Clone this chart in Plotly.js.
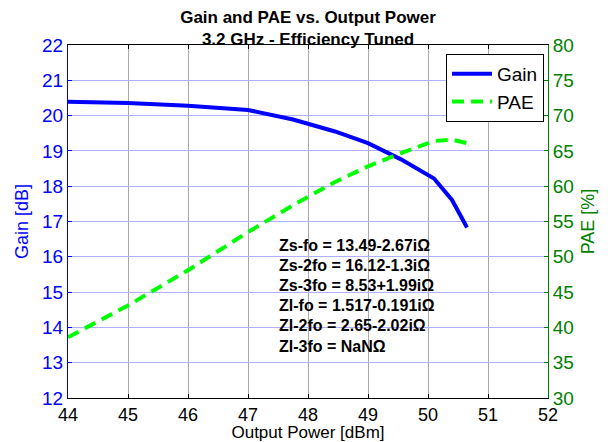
<!DOCTYPE html>
<html>
<head>
<meta charset="utf-8">
<script src="https://cdn.plot.ly/plotly-3.0.1.min.js"></script>
<style>html,body{margin:0;padding:0;background:#fff;}#chart{width:608px;height:442px;}</style>
</head>
<body>
<div id="chart"></div>
<script>
// Data
const outputPower = [44, 45, 46, 47, 47.75, 48.45, 49.0, 49.55, 50.1, 50.4, 50.65];
const gainDb     = [20.39, 20.36, 20.28, 20.16, 19.89, 19.55, 19.22, 18.76, 18.22, 17.61, 16.83];
const paePct     = [38.6, 43.1, 48.1, 53.5, 57.3, 60.6, 62.8, 64.7, 66.4, 66.6, 66.1];
const seriesNames = ['Gain', 'PAE'];
const impedanceLines = [
  'Zs-fo = 13.49-2.67iΩ',
  'Zs-2fo = 16.12-1.3iΩ',
  'Zs-3fo = 8.53+1.99iΩ',
  'Zl-fo = 1.517-0.191iΩ',
  'Zl-2fo = 2.65-2.02iΩ',
  'Zl-3fo = NaNΩ'
];
const xTicks = [44, 45, 46, 47, 48, 49, 50, 51, 52];
const gainTicks = [12, 13, 14, 15, 16, 17, 18, 19, 20, 21, 22];
const paeTicks = [30, 35, 40, 45, 50, 55, 60, 65, 70, 75, 80];

const FONT = 'Liberation Sans, Arial, Helvetica, sans-serif';
const BLUE = '#0000ff';
const GREEN_AX = '#008000';

const traces = [
  {x: outputPower, y: gainDb, name: seriesNames[0], type: 'scatter', mode: 'lines',
   line: {color: BLUE, width: 4}, yaxis: 'y'},
  {x: outputPower, y: paePct, name: seriesNames[1], type: 'scatter', mode: 'lines',
   line: {color: '#00ff00', width: 4, dash: '12px,7px'}, yaxis: 'y2'}
];

const W = 608, H = 442, mL = 68, mR = 60, mT = 45, mB = 44;
const plotH = H - mT - mB;
const annX = (277 - mL) / (W - mL - mR);
const annotations = impedanceLines.map((t, i) => ({
  text: '<b>' + t + '</b>', xref: 'paper', yref: 'paper',
  x: annX, xanchor: 'left',
  y: 1 - ((245 + i * 20.2) - mT) / plotH, yanchor: 'middle',
  showarrow: false, font: {family: FONT, size: 16, color: '#000'}
}));

const layout = {
  width: W, height: H,
  margin: {l: mL, r: mR, t: mT, b: mB, pad: 0},
  paper_bgcolor: '#fff', plot_bgcolor: '#fff',
  font: {family: FONT},
  showlegend: true,
  title: {
    text: '<b>Gain and PAE vs. Output Power<br>3.2 GHz - Efficiency Tuned</b>',
    font: {family: FONT, size: 17, color: '#000'},
    x: (mL + (W - mL - mR) / 2) / W, xanchor: 'center',
    y: 0.949, yanchor: 'top', yref: 'container'
  },
  xaxis: {
    range: [44, 52], tickvals: xTicks, ticktext: xTicks.map(String),
    ticks: 'inside', ticklen: 4, tickcolor: '#000',
    showline: true, linecolor: '#000', linewidth: 1, mirror: 'ticks',
    showgrid: true, gridcolor: '#a9a9a9', gridwidth: 1,
    zeroline: false,
    tickfont: {family: FONT, size: 18, color: '#000'},
    title: {text: 'Output Power [dBm]', font: {family: FONT, size: 17, color: '#000'}, standoff: 4}
  },
  yaxis: {
    range: [12, 22], tickvals: gainTicks, ticktext: gainTicks.map(String),
    ticks: 'inside', ticklen: 4, tickcolor: BLUE,
    showline: true, linecolor: BLUE, linewidth: 1,
    showgrid: true, gridcolor: '#b0b0ff', gridwidth: 1,
    zeroline: false,
    tickfont: {family: FONT, size: 19, color: BLUE},
    title: {text: 'Gain [dB]', font: {family: FONT, size: 18, color: BLUE}, standoff: 8}
  },
  yaxis2: {
    range: [30, 80], tickvals: paeTicks, ticktext: paeTicks.map(String),
    overlaying: 'y', side: 'right', anchor: 'x',
    ticks: 'inside', ticklen: 4, tickcolor: GREEN_AX,
    showline: true, linecolor: GREEN_AX, linewidth: 1,
    showgrid: false, zeroline: false,
    tickfont: {family: FONT, size: 19, color: GREEN_AX},
    title: {text: 'PAE [%]', font: {family: FONT, size: 18, color: GREEN_AX}, standoff: 8}
  },
  legend: {
    x: (544 - mL) / (W - mL - mR), xanchor: 'right',
    y: 1 - (54 - mT) / plotH, yanchor: 'top',
    bgcolor: '#fff', bordercolor: '#000', borderwidth: 1,
    font: {family: FONT, size: 19, color: '#000'},
    itemwidth: 40, tracegroupgap: 0
  },
  annotations: annotations
};

Plotly.newPlot('chart', traces, layout, {displayModeBar: false, staticPlot: true});
</script>
</body>
</html>
